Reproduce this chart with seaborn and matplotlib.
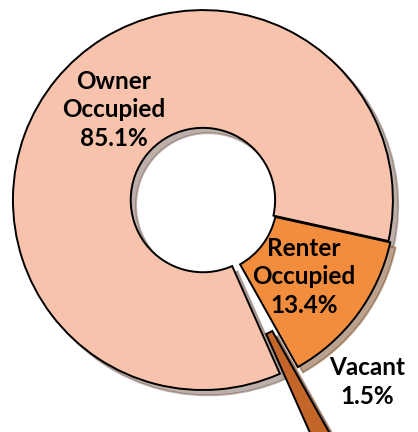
import matplotlib.pyplot as plt
import seaborn as sns

# datos del grafico
categorias = ['Owner\nOccupied', 'Renter\nOccupied', 'Vacant']
porcentajes = [85.1, 13.4, 1.5]
colores = ['#F8C3AD', '#F28D3E', '#C4652A']
separacion = [0.0, 0.012, 0.4]

sns.set_theme(style="white")
plt.rcParams['font.family'] = ['Lato', 'DejaVu Sans']

fig = plt.figure(figsize=(4.18, 4.32), dpi=100)
ax = fig.add_axes([0, 0, 1, 1])

# donut en sentido horario, empieza en la porcion de propietarios
wedges, _ = ax.pie(
    porcentajes,
    colors=colores,
    explode=separacion,
    startangle=-66.1,
    counterclock=False,
    radius=1.0,
    shadow={'ox': 0.02, 'oy': -0.02, 'shade': 0.5},
    wedgeprops=dict(width=0.62, edgecolor='black', linewidth=1.4),
)

# etiquetas de cada porcion
posiciones = [(-0.468, 0.474), (0.531, -0.405), (0.863, -0.958)]
for nombre, valor, (x, y) in zip(categorias, porcentajes, posiciones):
    ax.text(x, y, f'{nombre}\n{valor:.1f}%', ha='center', va='center',
            fontsize=17.5, fontweight='bold', color='black', linespacing=1.3)

ax.set_xlim(-1.068, 1.132)
ax.set_ylim(-1.221, 1.053)
ax.set_aspect('equal')
ax.axis('off')

fig.savefig('out.png', dpi=100)
